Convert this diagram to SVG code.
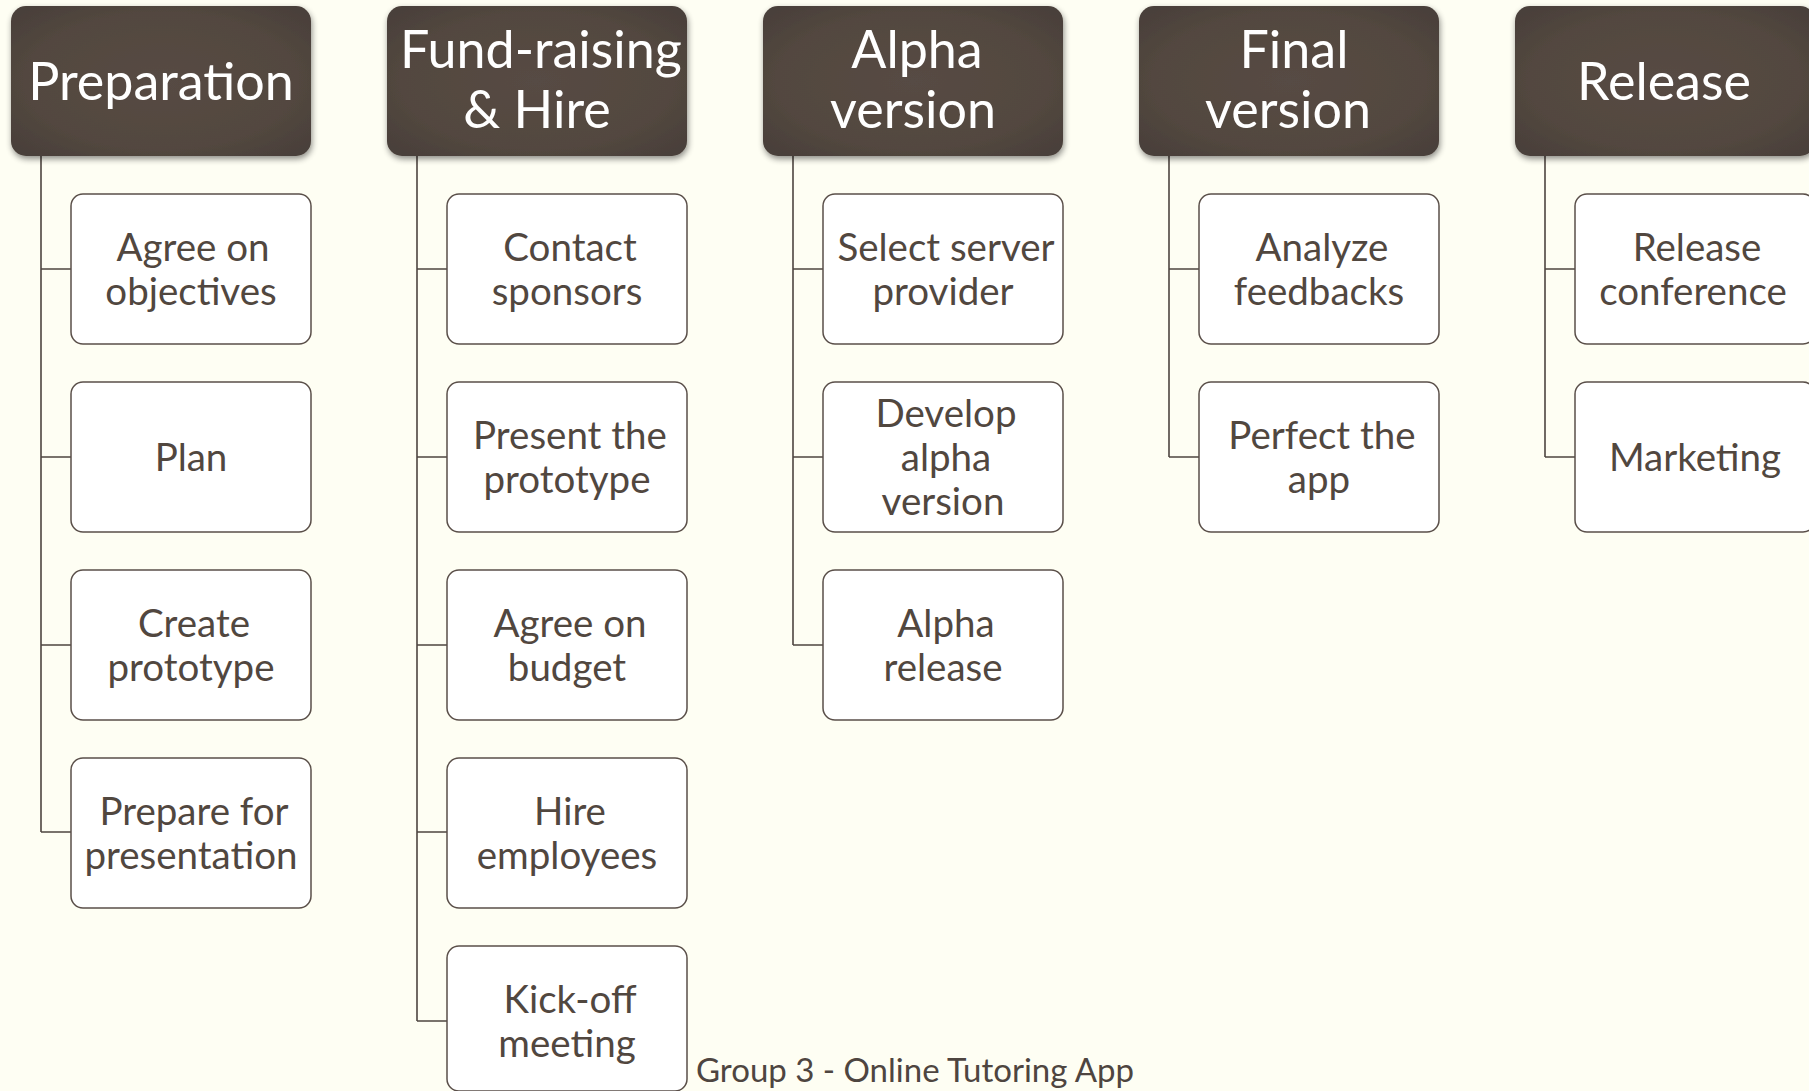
<svg xmlns="http://www.w3.org/2000/svg" width="1809" height="1091" viewBox="0 0 1809 1091">
  <defs>
    <radialGradient id="hdrFill" cx="50%" cy="50%" r="65%">
      <stop offset="0" stop-color="#574b44"/>
      <stop offset="0.7" stop-color="#52473f"/>
      <stop offset="1" stop-color="#4a403a"/>
    </radialGradient>
    <filter id="hdrShadow" x="-10%" y="-10%" width="125%" height="130%">
      <feGaussianBlur in="SourceAlpha" stdDeviation="3"/>
      <feOffset dx="1" dy="3" result="b"/>
      <feComponentTransfer><feFuncA type="linear" slope="0.45"/></feComponentTransfer>
      <feMerge><feMergeNode/><feMergeNode in="SourceGraphic"/></feMerge>
    </filter>
  </defs>
  <style>
    .hdr { fill: url(#hdrFill); filter: url(#hdrShadow); }
    .hdr-t { font-family: Lato, "Open Sans", sans-serif; font-size: 52px; fill: #ffffff; text-anchor: middle; }
    .box { fill: #ffffff; stroke: #5a4f49; stroke-width: 1.5; }
    .box-t { font-family: Lato, "Open Sans", sans-serif; font-size: 38.5px; fill: #51473f; text-anchor: middle; }
    .conn { fill: none; stroke: #4e4540; stroke-width: 1.6; }
    .foot { font-family: Lato, "Open Sans", sans-serif; font-size: 33px; fill: #4e4540; }
  </style>
  <rect width="1809" height="1091" fill="#fefef3"/>

  <!-- connectors: trunk from each phase header, branches to each task -->
  <g id="connectors">
    <path class="conn" d="M41 156 V832 M41 269 H71 M41 457 H71 M41 645 H71 M41 832 H71"/>
    <path class="conn" d="M417 156 V1021 M417 269 H447 M417 457 H447 M417 645 H447 M417 832 H447 M417 1021 H447"/>
    <path class="conn" d="M793 156 V645 M793 269 H823 M793 457 H823 M793 645 H823"/>
    <path class="conn" d="M1169 156 V457 M1169 269 H1199 M1169 457 H1199"/>
    <path class="conn" d="M1545 156 V457 M1545 269 H1575 M1545 457 H1575"/>
  </g>

  <!-- phase 1 -->
  <g id="preparation">
    <rect class="hdr" x="11" y="6" width="300" height="150" rx="15"/>
    <text class="hdr-t" x="161" y="100">Preparation</text>
  </g>
  <g id="agree-objectives">
    <rect class="box" x="71" y="194" width="240" height="150" rx="12"/>
    <text class="box-t" x="193" y="261">Agree on</text>
    <text class="box-t" x="191" y="305">objectives</text>
  </g>
  <g id="plan">
    <rect class="box" x="71" y="382" width="240" height="150" rx="12"/>
    <text class="box-t" x="191" y="471">Plan</text>
  </g>
  <g id="create-prototype">
    <rect class="box" x="71" y="570" width="240" height="150" rx="12"/>
    <text class="box-t" x="194" y="637">Create</text>
    <text class="box-t" x="191" y="681">prototype</text>
  </g>
  <g id="prepare-presentation">
    <rect class="box" x="71" y="758" width="240" height="150" rx="12"/>
    <text class="box-t" x="194" y="825">Prepare for</text>
    <text class="box-t" x="191" y="869">presentation</text>
  </g>

  <!-- phase 2 -->
  <g id="fund-raising">
    <rect class="hdr" x="387" y="6" width="300" height="150" rx="15"/>
    <text class="hdr-t" x="541" y="68">Fund-raising</text>
    <text class="hdr-t" x="537" y="128">&amp; Hire</text>
  </g>
  <g id="contact-sponsors">
    <rect class="box" x="447" y="194" width="240" height="150" rx="12"/>
    <text class="box-t" x="570" y="261">Contact</text>
    <text class="box-t" x="567" y="305">sponsors</text>
  </g>
  <g id="present-prototype">
    <rect class="box" x="447" y="382" width="240" height="150" rx="12"/>
    <text class="box-t" x="570" y="449">Present the</text>
    <text class="box-t" x="567" y="493">prototype</text>
  </g>
  <g id="agree-budget">
    <rect class="box" x="447" y="570" width="240" height="150" rx="12"/>
    <text class="box-t" x="570" y="637">Agree on</text>
    <text class="box-t" x="567" y="681">budget</text>
  </g>
  <g id="hire-employees">
    <rect class="box" x="447" y="758" width="240" height="150" rx="12"/>
    <text class="box-t" x="570" y="825">Hire</text>
    <text class="box-t" x="567" y="869">employees</text>
  </g>
  <g id="kick-off">
    <rect class="box" x="447" y="946" width="240" height="145" rx="12"/>
    <text class="box-t" x="570" y="1013">Kick-off</text>
    <text class="box-t" x="567" y="1057">meeting</text>
  </g>

  <!-- phase 3 -->
  <g id="alpha-version">
    <rect class="hdr" x="763" y="6" width="300" height="150" rx="15"/>
    <text class="hdr-t" x="917" y="68">Alpha</text>
    <text class="hdr-t" x="913" y="128">version</text>
  </g>
  <g id="select-server">
    <rect class="box" x="823" y="194" width="240" height="150" rx="12"/>
    <text class="box-t" x="946" y="261">Select server</text>
    <text class="box-t" x="943" y="305">provider</text>
  </g>
  <g id="develop-alpha">
    <rect class="box" x="823" y="382" width="240" height="150" rx="12"/>
    <text class="box-t" x="946" y="427">Develop</text>
    <text class="box-t" x="946" y="471">alpha</text>
    <text class="box-t" x="943" y="515">version</text>
  </g>
  <g id="alpha-release">
    <rect class="box" x="823" y="570" width="240" height="150" rx="12"/>
    <text class="box-t" x="946" y="637">Alpha</text>
    <text class="box-t" x="943" y="681">release</text>
  </g>

  <!-- phase 4 -->
  <g id="final-version">
    <rect class="hdr" x="1139" y="6" width="300" height="150" rx="15"/>
    <text class="hdr-t" x="1294" y="68">Final</text>
    <text class="hdr-t" x="1288" y="128">version</text>
  </g>
  <g id="analyze-feedbacks">
    <rect class="box" x="1199" y="194" width="240" height="150" rx="12"/>
    <text class="box-t" x="1322" y="261">Analyze</text>
    <text class="box-t" x="1319" y="305">feedbacks</text>
  </g>
  <g id="perfect-app">
    <rect class="box" x="1199" y="382" width="240" height="150" rx="12"/>
    <text class="box-t" x="1322" y="449">Perfect the</text>
    <text class="box-t" x="1319" y="493">app</text>
  </g>

  <!-- phase 5 -->
  <g id="release">
    <rect class="hdr" x="1515" y="6" width="300" height="150" rx="15"/>
    <text class="hdr-t" x="1664" y="100">Release</text>
  </g>
  <g id="release-conference">
    <rect class="box" x="1575" y="194" width="240" height="150" rx="12"/>
    <text class="box-t" x="1697" y="261">Release</text>
    <text class="box-t" x="1693" y="305">conference</text>
  </g>
  <g id="marketing">
    <rect class="box" x="1575" y="382" width="240" height="150" rx="12"/>
    <text class="box-t" x="1695" y="471">Marketing</text>
  </g>

  <text class="foot" x="696" y="1082">Group 3 - Online Tutoring App</text>
</svg>
